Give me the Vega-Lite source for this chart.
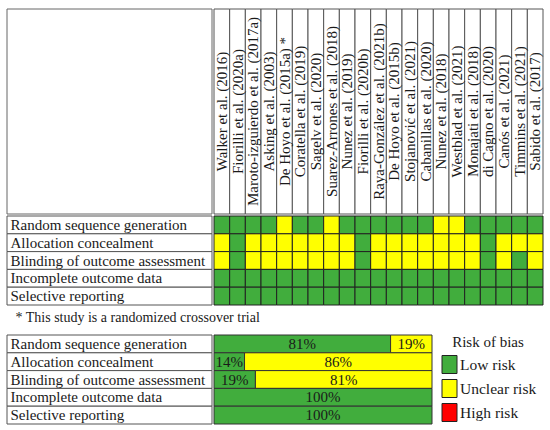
{
  "$schema": "https://vega.github.io/schema/vega-lite/v6.json",
  "padding": {"left": 6, "top": 8, "right": 0, "bottom": 0},
  "config": {
    "font": "Liberation Serif",
    "view": {"stroke": null},
    "text": {"color": "#1a1a1a"}
  },
  "datasets": {
    "studies": [
      {"study": "Walker et al. (2016)", "Random sequence generation": "Low risk", "Allocation concealment": "Unclear risk", "Blinding of outcome assessment": "Unclear risk", "Incomplete outcome data": "Low risk", "Selective reporting": "Low risk"},
      {"study": "Fiorilli et al. (2020a)", "Random sequence generation": "Low risk", "Allocation concealment": "Low risk", "Blinding of outcome assessment": "Low risk", "Incomplete outcome data": "Low risk", "Selective reporting": "Low risk"},
      {"study": "Maroto-izguierdo et al. (2017a)", "Random sequence generation": "Low risk", "Allocation concealment": "Unclear risk", "Blinding of outcome assessment": "Unclear risk", "Incomplete outcome data": "Low risk", "Selective reporting": "Low risk"},
      {"study": "Asking et al. (2003)", "Random sequence generation": "Low risk", "Allocation concealment": "Unclear risk", "Blinding of outcome assessment": "Unclear risk", "Incomplete outcome data": "Low risk", "Selective reporting": "Low risk"},
      {"study": "De Hoyo et al. (2015a) *", "Random sequence generation": "Unclear risk", "Allocation concealment": "Unclear risk", "Blinding of outcome assessment": "Unclear risk", "Incomplete outcome data": "Low risk", "Selective reporting": "Low risk"},
      {"study": "Coratella et al. (2019)", "Random sequence generation": "Low risk", "Allocation concealment": "Unclear risk", "Blinding of outcome assessment": "Unclear risk", "Incomplete outcome data": "Low risk", "Selective reporting": "Low risk"},
      {"study": "Sagelv et al. (2020)", "Random sequence generation": "Low risk", "Allocation concealment": "Unclear risk", "Blinding of outcome assessment": "Unclear risk", "Incomplete outcome data": "Low risk", "Selective reporting": "Low risk"},
      {"study": "Suarez-Arrones et al. (2018)", "Random sequence generation": "Unclear risk", "Allocation concealment": "Unclear risk", "Blinding of outcome assessment": "Unclear risk", "Incomplete outcome data": "Low risk", "Selective reporting": "Low risk"},
      {"study": "Nunez et al. (2019)", "Random sequence generation": "Low risk", "Allocation concealment": "Unclear risk", "Blinding of outcome assessment": "Unclear risk", "Incomplete outcome data": "Low risk", "Selective reporting": "Low risk"},
      {"study": "Fiorilli et al. (2020b)", "Random sequence generation": "Low risk", "Allocation concealment": "Low risk", "Blinding of outcome assessment": "Low risk", "Incomplete outcome data": "Low risk", "Selective reporting": "Low risk"},
      {"study": "Raya-González et al. (2021b)", "Random sequence generation": "Low risk", "Allocation concealment": "Unclear risk", "Blinding of outcome assessment": "Unclear risk", "Incomplete outcome data": "Low risk", "Selective reporting": "Low risk"},
      {"study": "De Hoyo et al. (2015b)", "Random sequence generation": "Low risk", "Allocation concealment": "Unclear risk", "Blinding of outcome assessment": "Unclear risk", "Incomplete outcome data": "Low risk", "Selective reporting": "Low risk"},
      {"study": "Stojanović et al. (2021)", "Random sequence generation": "Low risk", "Allocation concealment": "Unclear risk", "Blinding of outcome assessment": "Unclear risk", "Incomplete outcome data": "Low risk", "Selective reporting": "Low risk"},
      {"study": "Cabanillas et al. (2020)", "Random sequence generation": "Low risk", "Allocation concealment": "Unclear risk", "Blinding of outcome assessment": "Unclear risk", "Incomplete outcome data": "Low risk", "Selective reporting": "Low risk"},
      {"study": "Nunez et al. (2018)", "Random sequence generation": "Unclear risk", "Allocation concealment": "Unclear risk", "Blinding of outcome assessment": "Unclear risk", "Incomplete outcome data": "Low risk", "Selective reporting": "Low risk"},
      {"study": "Westblad et al. (2021)", "Random sequence generation": "Unclear risk", "Allocation concealment": "Unclear risk", "Blinding of outcome assessment": "Unclear risk", "Incomplete outcome data": "Low risk", "Selective reporting": "Low risk"},
      {"study": "Monajati et al. (2018)", "Random sequence generation": "Low risk", "Allocation concealment": "Unclear risk", "Blinding of outcome assessment": "Unclear risk", "Incomplete outcome data": "Low risk", "Selective reporting": "Low risk"},
      {"study": "di Cagno et al. (2020)", "Random sequence generation": "Low risk", "Allocation concealment": "Low risk", "Blinding of outcome assessment": "Low risk", "Incomplete outcome data": "Low risk", "Selective reporting": "Low risk"},
      {"study": "Canós et al. (2021)", "Random sequence generation": "Low risk", "Allocation concealment": "Unclear risk", "Blinding of outcome assessment": "Unclear risk", "Incomplete outcome data": "Low risk", "Selective reporting": "Low risk"},
      {"study": "Timmins et al. (2021)", "Random sequence generation": "Low risk", "Allocation concealment": "Unclear risk", "Blinding of outcome assessment": "Low risk", "Incomplete outcome data": "Low risk", "Selective reporting": "Low risk"},
      {"study": "Sabido et al. (2017)", "Random sequence generation": "Low risk", "Allocation concealment": "Unclear risk", "Blinding of outcome assessment": "Unclear risk", "Incomplete outcome data": "Low risk", "Selective reporting": "Low risk"}
    ],
    "domains": [
      {"domain": "Random sequence generation"},
      {"domain": "Allocation concealment"},
      {"domain": "Blinding of outcome assessment"},
      {"domain": "Incomplete outcome data"},
      {"domain": "Selective reporting"}
    ],
    "summary": [
      {"domain": "Random sequence generation", "risk": "Low risk", "share": 0.81},
      {"domain": "Random sequence generation", "risk": "Unclear risk", "share": 0.19},
      {"domain": "Allocation concealment", "risk": "Low risk", "share": 0.14},
      {"domain": "Allocation concealment", "risk": "Unclear risk", "share": 0.86},
      {"domain": "Blinding of outcome assessment", "risk": "Low risk", "share": 0.19},
      {"domain": "Blinding of outcome assessment", "risk": "Unclear risk", "share": 0.81},
      {"domain": "Incomplete outcome data", "risk": "Low risk", "share": 1},
      {"domain": "Selective reporting", "risk": "Low risk", "share": 1}
    ]
  },
  "spacing": 4,
  "resolve": {"scale": {"color": "independent"}, "legend": {"color": "independent"}},
  "vconcat": [
    {
      "spacing": 0,
      "vconcat": [
        {
          "spacing": 0,
          "hconcat": [
            {
              "width": 205, "height": 205,
              "data": {"values": [{"cell": "blank"}]},
              "mark": {"type": "rect", "fill": "white", "stroke": "#666", "strokeWidth": 1},
              "encoding": {
                "y": {"field": "cell", "type": "nominal", "axis": null,
                      "scale": {"paddingInner": 0, "paddingOuter": 0}}
              }
            },
            {
              "width": 329, "height": 205,
              "data": {"name": "studies"},
              "layer": [
                {
                  "mark": {"type": "rect", "fill": "white", "stroke": "#555", "strokeWidth": 1},
                  "encoding": {
                    "x": {"field": "study", "type": "nominal", "sort": null, "axis": null,
                          "scale": {"paddingInner": 0, "paddingOuter": 0}}
                  }
                },
                {
                  "mark": {"type": "text", "angle": 270, "fontSize": 15, "align": "center", "baseline": "middle"},
                  "encoding": {
                    "x": {"field": "study", "type": "nominal", "sort": null, "axis": null},
                    "text": {"field": "study"}
                  }
                }
              ]
            }
          ]
        },
        {
          "spacing": 0,
          "resolve": {"scale": {"color": "independent"}, "legend": {"color": "independent"}},
          "hconcat": [
            {
              "width": 205, "height": 89,
              "data": {"name": "domains"},
              "mark": {"type": "rect", "fill": "white", "stroke": "#555", "strokeWidth": 1},
              "encoding": {
                "y": {
                  "field": "domain", "type": "nominal", "sort": null,
                  "scale": {"paddingInner": 0, "paddingOuter": 0},
                  "axis": {"title": null, "orient": "left", "ticks": false, "domain": false,
                           "labelAlign": "left", "labelBaseline": "middle", "labelPadding": -3,
                           "labelFontSize": 15, "labelColor": "#1a1a1a", "labelLimit": 0,
                           "labelOverlap": false, "minExtent": 0, "maxExtent": 0, "zindex": 1}
                }
              }
            },
            {
              "width": 329, "height": 89,
              "data": {"name": "studies"},
              "transform": [
                {"fold": ["Random sequence generation", "Allocation concealment", "Blinding of outcome assessment", "Incomplete outcome data", "Selective reporting"],
                 "as": ["domain", "risk"]}
              ],
              "mark": {"type": "rect", "stroke": "#222", "strokeWidth": 1},
              "encoding": {
                "x": {"field": "study", "type": "nominal", "sort": null, "axis": null,
                      "scale": {"paddingInner": 0, "paddingOuter": 0}},
                "y": {"field": "domain", "type": "nominal", "sort": null, "axis": null,
                      "scale": {"paddingInner": 0, "paddingOuter": 0}},
                "color": {"field": "risk", "type": "nominal", "legend": null,
                          "scale": {"domain": ["Low risk", "Unclear risk", "High risk"],
                                    "range": ["#41ad3d", "#ffff00", "#ff0000"]}}
              }
            }
          ]
        }
      ]
    },
    {
      "spacing": 0,
      "title": {"text": "* This study is a randomized crossover trial", "orient": "top", "anchor": "start",
                "dx": 9, "offset": 10, "fontSize": 14, "fontWeight": "normal", "color": "#1a1a1a",
                "font": "Liberation Serif"},
      "resolve": {"scale": {"color": "independent"}, "legend": {"color": "independent"}},
      "hconcat": [
        {
          "width": 205, "height": 89,
          "data": {"name": "domains"},
          "mark": {"type": "rect", "fill": "white", "stroke": "#555", "strokeWidth": 1},
          "encoding": {
            "y": {
              "field": "domain", "type": "nominal", "sort": null,
              "scale": {"paddingInner": 0, "paddingOuter": 0},
              "axis": {"title": null, "orient": "left", "ticks": false, "domain": false,
                       "labelAlign": "left", "labelBaseline": "middle", "labelPadding": -3,
                       "labelFontSize": 15, "labelColor": "#1a1a1a", "labelLimit": 0,
                       "labelOverlap": false, "minExtent": 0, "maxExtent": 0, "zindex": 1}
            }
          }
        },
        {
          "width": 218, "height": 89,
          "data": {"name": "summary"},
          "transform": [
            {"stack": "share", "groupby": ["domain"], "sort": [{"field": "risk", "order": "ascending"}], "as": ["x0", "x1"]}
          ],
          "layer": [
            {
              "mark": {"type": "rect", "stroke": "#333", "strokeWidth": 1},
              "encoding": {
                "x": {"field": "x0", "type": "quantitative", "scale": {"domain": [0, 1]}, "axis": null},
                "x2": {"field": "x1"},
                "y": {"field": "domain", "type": "nominal", "sort": null, "axis": null,
                      "scale": {"paddingInner": 0, "paddingOuter": 0}},
                "color": {
                  "field": "risk", "type": "nominal",
                  "scale": {"domain": ["Low risk", "Unclear risk", "High risk"],
                            "range": ["#41ad3d", "#ffff00", "#ff0000"]},
                  "legend": {
                    "title": "Risk of bias", "orient": "right", "offset": 6.5, "padding": 0,
                    "titleFontSize": 15, "titleFontWeight": "normal", "titleColor": "#1a1a1a",
                    "titleAnchor": "middle", "titlePadding": 4,
                    "labelFontSize": 15.5, "labelColor": "#1a1a1a", "labelOffset": 0,
                    "symbolType": "M-0.75,-0.9H0.75V0.9H-0.75Z", "symbolSize": 400,
                    "symbolStrokeColor": "#222", "symbolStrokeWidth": 1, "symbolOpacity": 1,
                    "rowPadding": 1
                  }
                }
              }
            },
            {
              "transform": [
                {"fold": ["x0", "x1"], "as": ["edge", "pos"]},
                {"aggregate": [{"op": "mean", "field": "pos", "as": "mid"}], "groupby": ["domain", "risk", "share"]}
              ],
              "mark": {"type": "text", "fontSize": 15, "baseline": "middle"},
              "encoding": {
                "x": {"field": "mid", "type": "quantitative", "axis": null},
                "y": {"field": "domain", "type": "nominal", "sort": null, "axis": null},
                "text": {"field": "share", "format": ".0%"}
              }
            }
          ]
        }
      ]
    }
  ]
}
